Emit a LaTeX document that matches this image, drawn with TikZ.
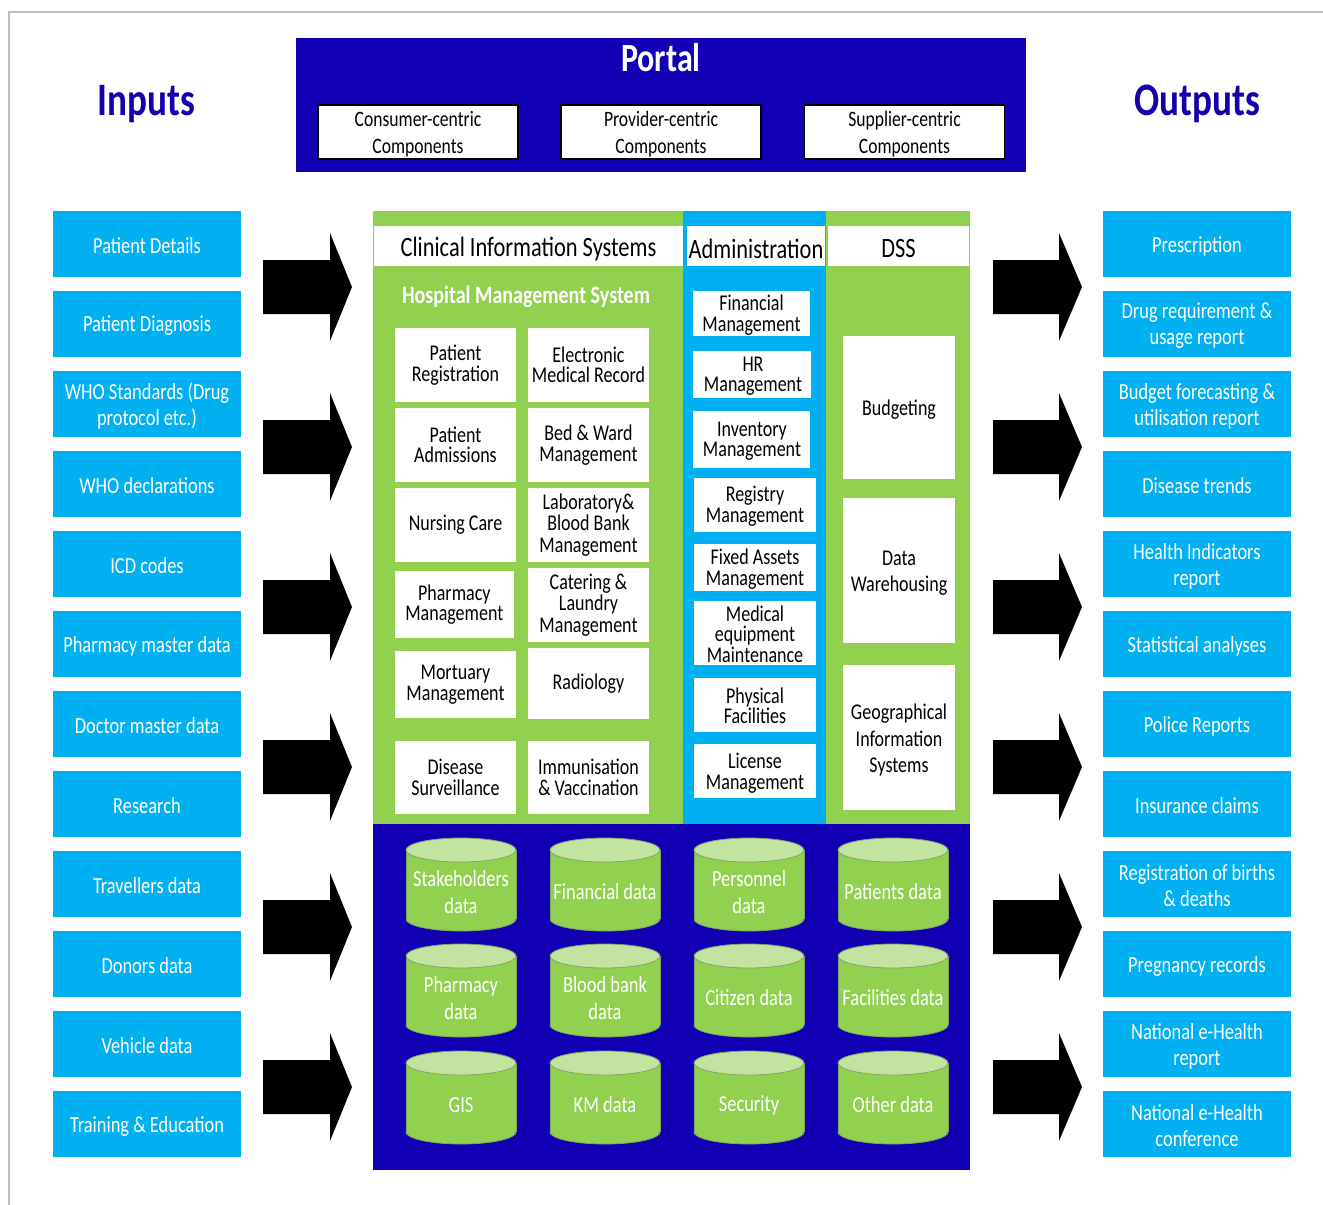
\documentclass[tikz,border=0pt]{standalone}
\usepackage{fontspec}
\setmainfont{Carlito}[FakeStretch=0.8]
\definecolor{cyanc}{RGB}{0,176,240}
\definecolor{greenc}{RGB}{146,208,80}
\definecolor{bluec}{RGB}{17,0,180}
\definecolor{lightg}{RGB}{195,228,160}
\definecolor{titleblue}{RGB}{20,0,170}
\definecolor{frameg}{RGB}{190,190,190}
\definecolor{cyledge}{RGB}{130,165,100}
\newcommand\dbcyl[4]{%
  \fill[greenc] ({#1-55},{#2+12}) rectangle ({#1+55},{#2+81});
  \fill[greenc] (#1,{#2+81}) ellipse [x radius=55, y radius=12];
  \begin{scope}
    \clip ({#1-57},{#2+81}) rectangle ({#1+57},{#2+95});
    \draw[cylline] (#1,{#2+81}) ellipse [x radius=55, y radius=12];
  \end{scope}
  \draw[cylline] ({#1-55},{#2+12}) -- ({#1-55},{#2+81}) ({#1+55},{#2+12}) -- ({#1+55},{#2+81});
  \filldraw[cylline, fill=lightg] (#1,{#2+12}) ellipse [x radius=55, y radius=12];
  \node[cyltext] (#3) at (#1,{#2+54}) {#4};
}
\begin{document}
\begin{tikzpicture}[x=1pt,y=-1pt,
  inbox/.style={fill=cyanc, text=white, inner sep=0pt, minimum width=188pt, minimum height=66pt, align=center, font=\fontsize{23}{26}\selectfont},
  intext/.style={text=white, inner sep=0pt, align=center, font=\fontsize{23}{26}\selectfont},
  psub/.style={fill=white, draw=black, line width=1.2pt, minimum width=200pt, minimum height=54pt, inner sep=0pt, align=center, font=\fontsize{22}{27}\selectfont},
  hdr/.style={fill=white, inner sep=0pt, minimum height=40pt, font=\fontsize{28}{28}\selectfont},
  wbox/.style={fill=white, inner sep=0pt, align=center, font=\fontsize{22.5}{20.5}\selectfont},
  dbox/.style={fill=white, inner sep=0pt, align=center, minimum width=112pt, font=\fontsize{22.5}{26}\selectfont},
  cyltext/.style={text=white, align=center, inner sep=0pt, font=\fontsize{23}{27.5}\selectfont},
  title/.style={text=titleblue, font=\fontsize{46.5}{46.5}\selectfont\bfseries, anchor=base, inner sep=0pt},
  cylline/.style={draw=cyledge, line width=0.8pt},
  bigarrow/.style={fill=black}
]
\useasboundingbox (0,0) rectangle (1323,1205);
\fill[white] (0,0) rectangle (1323,1205);
% frame
\draw[frameg, line width=1.5pt] (8,12) -- (1323,12);
\draw[frameg, line width=1.5pt] (9,12) -- (9,1205);

% titles
\node[title] (inputs) at (146,115) {Inputs};
\node[title] (outputs) at (1197,115) {Outputs};

% portal
\fill[bluec] (296,38) rectangle (1026,172);
\node[text=white, font=\fontsize{40}{40}\selectfont\bfseries, anchor=base, inner sep=0pt] (portal) at (661,71) {Portal};
\node[psub] (consumer) at (418,132) {};
\node[psub] (provider) at (661,132) {};
\node[psub] (supplier) at (904.5,132) {};
\node[align=center, inner sep=0pt, font=\fontsize{22}{27}\selectfont] (consumertxt) at (418,134) {Consumer-centric\\Components};
\node[align=center, inner sep=0pt, font=\fontsize{22}{27}\selectfont] (providertxt) at (661,134) {Provider-centric\\Components};
\node[align=center, inner sep=0pt, font=\fontsize{22}{27}\selectfont] (suppliertxt) at (904.5,134) {Supplier-centric\\Components};

% inputs
\foreach \t [count=\i from 0] in {Patient Details, Patient Diagnosis, {WHO Standards (Drug\\protocol etc.)}, WHO declarations, ICD codes, Pharmacy master data, Doctor master data, Research, Travellers data, Donors data, Vehicle data, {Training \& Education}}
  {\node[inbox] (in\i) at (147,{244+80*\i}) {};
   \node[intext] (int\i) at (147,{246+80*\i}) {\t};}

% outputs
\foreach \t [count=\i from 0] in {Prescription, {Drug requirement \&\\usage report}, {Budget forecasting \&\\utilisation report}, Disease trends, {Health Indicators\\report}, Statistical analyses, Police Reports, Insurance claims, {Registration of births\\\& deaths}, Pregnancy records, {National e-Health\\report}, {National e-Health\\conference}}
  {\node[inbox] (out\i) at (1197,{244+80*\i}) {};
   \node[intext] (outt\i) at (1197,{246+80*\i}) {\t};}

% arrows
\foreach \c in {287,447,607,767,927,1087} {
  \fill[bigarrow] (263,\c-27) -- (330,\c-27) -- (330,\c-54) -- (352,\c) -- (330,\c+54) -- (330,\c+27) -- (263,\c+27) -- cycle;
  \fill[bigarrow] (993,\c-27) -- (1059,\c-27) -- (1059,\c-54) -- (1082,\c) -- (1059,\c+54) -- (1059,\c+27) -- (993,\c+27) -- cycle;
}

% central panel
\fill[greenc] (373,211) rectangle (970,824);
\fill[cyanc] (683,211) rectangle (826,825);
\fill[bluec] (373,824) rectangle (970,1170);

\fill[white] (374,226) rectangle (683,266);
\fill[white] (687,226) rectangle (825,266);
\fill[white] (828,226) rectangle (969,266);
\node[inner sep=0pt, font=\fontsize{28}{28}\selectfont] (cis) at (528.5,249) {Clinical Information Systems};
\node[inner sep=0pt, font=\fontsize{28}{28}\selectfont] (adm) at (756,249) {Administration};
\node[inner sep=0pt, font=\fontsize{28}{28}\selectfont] (dss) at (898.5,249) {DSS};

\node[text=white, font=\fontsize{25}{25}\selectfont\bfseries, inner sep=0pt] (hms) at (526,297) {Hospital Management System};

% CIS boxes
\node[wbox, minimum width=121pt, minimum height=74pt] (preg) at (455.5,365) {Patient\\Registration};
\node[wbox, minimum width=121pt, minimum height=74pt] (emr) at (588.5,365) {Electronic\\Medical Record};
\node[wbox, minimum width=121pt, minimum height=74pt] (padm) at (455.5,445) {Patient\\Admissions};
\node[wbox, minimum width=121pt, minimum height=74pt] (bed) at (588.5,445) {Bed \& Ward\\Management};
\node[wbox, minimum width=121pt, minimum height=74pt] (nurse) at (455.5,525) {Nursing Care};
\node[wbox, minimum width=121pt, minimum height=74pt, font=\fontsize{22.5}{21.5}\selectfont] (lab) at (588.5,525) {Laboratory\&\\Blood Bank\\Management};
\node[wbox, minimum width=118.5pt, minimum height=67pt] (pharm) at (454.3,604.5) {Pharmacy\\Management};
\node[wbox, minimum width=121pt, minimum height=74pt, font=\fontsize{22.5}{21.5}\selectfont] (cater) at (588.5,605) {Catering \&\\Laundry\\Management};
\node[wbox, minimum width=121pt, minimum height=67pt] (mort) at (455.5,684.5) {Mortuary\\Management};
\node[wbox, minimum width=121pt, minimum height=71pt] (radio) at (588.5,683.5) {Radiology};
\node[wbox, minimum width=121pt, minimum height=73pt] (disease) at (455.5,777.5) {Disease\\Surveillance};
\node[wbox, minimum width=121pt, minimum height=73pt] (immun) at (588.5,777.5) {Immunisation\\\& Vaccination};

% Administration boxes
\fill[white] (693,291) rectangle (810,336);
\fill[white] (693,351) rectangle (811,398);
\fill[white] (693,411) rectangle (810,468);
\fill[white] (694,478) rectangle (816,532);
\fill[white] (694,544) rectangle (816,591);
\fill[white] (694,601) rectangle (816,665);
\fill[white] (694,678) rectangle (816,732);
\fill[white] (694,744) rectangle (816,798);
\node[wbox, fill=none] (fin) at (751.5,315) {Financial\\Management};
\node[wbox, fill=none] (hr) at (753,376) {HR\\Management};
\node[wbox, fill=none] (inv) at (752,441) {Inventory\\Management};
\node[wbox, fill=none] (regm) at (755,506) {Registry\\Management};
\node[wbox, fill=none] (fixed) at (755,569) {Fixed Assets\\Management};
\node[wbox, fill=none] (medeq) at (755,634) {Medical\\equipment\\Maintenance};
\node[wbox, fill=none] (phys) at (755,706) {Physical\\Facilities};
\node[wbox, fill=none] (lic) at (755,773) {License\\Management};

% DSS boxes
\fill[white] (843,336) rectangle (955,479);
\fill[white] (843,498) rectangle (955,643);
\fill[white] (843,665) rectangle (955,810);
\node[dbox, fill=none] (budget) at (899,410) {Budgeting};
\node[dbox, fill=none] (dw) at (899,573) {Data\\Warehousing};
\node[dbox, fill=none, font=\fontsize{22.5}{26.5}\selectfont] (gis) at (899,740) {Geographical\\Information\\Systems};

% data stores
\dbcyl{461}{838}{stake}{Stakeholders\\data}
\dbcyl{605}{838}{findata}{Financial data}
\dbcyl{749}{838}{pers}{Personnel\\data}
\dbcyl{893}{838}{patdata}{Patients data}
\dbcyl{461}{944}{phdata}{Pharmacy\\data}
\dbcyl{605}{944}{blood}{Blood bank\\data}
\dbcyl{749}{944}{citizen}{Citizen data}
\dbcyl{893}{944}{facil}{Facilities data}
\dbcyl{461}{1051}{gisdata}{GIS}
\dbcyl{605}{1051}{km}{KM data}
\dbcyl{749}{1051}{secur}{Security}
\dbcyl{893}{1051}{other}{Other data}
\end{tikzpicture}
\end{document}
